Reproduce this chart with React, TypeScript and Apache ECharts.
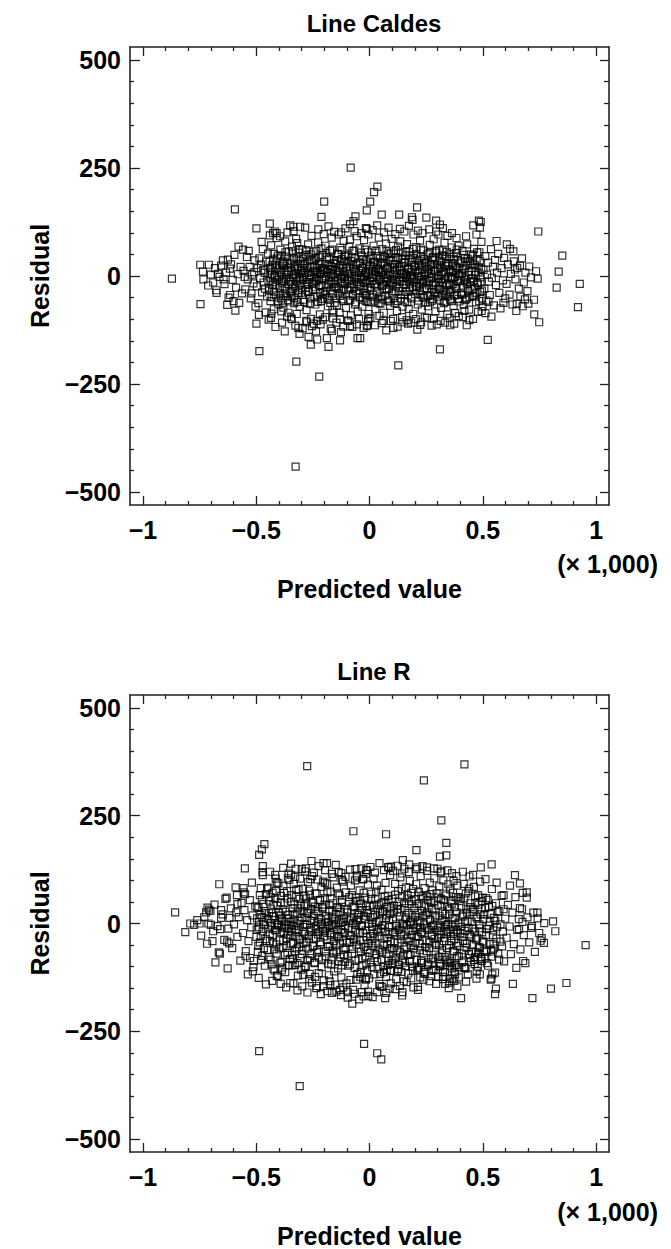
import React, { useEffect, useRef } from "react";
import * as echarts from "echarts";

// ---------- tick / text data ----------
const xMajorTicks = [-1000, -500, 0, 500, 1000];
const xMinorTicks = [-900, -800, -700, -600, -400, -300, -200, -100, 100, 200, 300, 400, 600, 700, 800, 900];
const yMajorTicks = [-500, -250, 0, 250, 500];
const yMinorTicks = [-450, -400, -350, -300, -200, -150, -100, -50, 50, 100, 150, 200, 300, 350, 400, 450];
const panelTitles = ["Line Caldes", "Line R"];
const xAxisName = "Predicted value";
const yAxisName = "Residual";
const xUnitText = "(× 1,000)";

// ---------- Line Caldes: [predicted value, residual] ----------
const caldesCore = [
  [-556,12],[-548,-31],[-541,44],[-537,-8],[-529,21],[-524,-52],[-518,3],[-512,-17],[-507,36],[-503,-71],[-551,-2],[-533,58],[-521,-40],[-509,9],
  [-497,-24],[-494,18],[-490,-63],[-486,41],[-483,-5],[-479,27],[-474,-38],[-471,62],[-467,-15],[-463,7],[-459,-84],[-456,33],[-452,-47],[-488,-90],[-476,79],[-461,-29],[-469,14],
  [-448,52],[-446,-12],[-443,-34],[-440,19],[-437,-58],[-434,71],[-431,4],[-428,-21],[-425,38],[-422,-77],[-419,-3],[-416,26],[-413,-45],[-410,88],[-407,-9],[-404,47],[-402,-66],[-445,-101],[-433,-87],[-426,99],[-415,-118],
  [-398,15],[-396,-28],[-393,61],[-391,-52],[-388,2],[-385,-11],[-383,34],[-380,-73],[-377,24],[-375,-41],[-372,80],[-369,-6],[-366,45],[-364,-94],[-361,9],[-358,-19],[-356,57],[-353,-35],[-351,-59],[-395,92],[-386,-108],[-374,-128],[-362,101],[-389,-82],
  [-349,29],[-347,-14],[-344,-47],[-342,68],[-339,3],[-337,-29],[-334,41],[-332,-63],[-329,17],[-326,-6],[-324,86],[-321,-88],[-318,22],[-316,-39],[-313,54],[-311,-2],[-308,-71],[-305,35],[-303,-20],[-346,-96],[-335,104],[-327,-115],[-319,76],[-309,-134],[-301,12],
  [-298,-44],[-296,61],[-293,-9],[-291,27],[-288,-60],[-286,7],[-283,-26],[-281,49],[-278,-79],[-276,18],[-273,-14],[-271,73],[-268,-36],[-266,2],[-263,-52],[-261,38],[-258,-99],[-256,93],[-253,-18],[-251,11],[-295,-121],[-284,112],[-269,-141],[-259,-159],[-279,-104],
  [-249,-31],[-247,55],[-244,-4],[-242,23],[-239,-66],[-237,41],[-234,-12],[-232,9],[-229,-47],[-227,78],[-224,-22],[-222,31],[-219,-89],[-217,5],[-214,-58],[-212,64],[-209,-7],[-207,18],[-204,-38],[-202,97],[-246,-110],[-236,-128],[-226,108],[-216,-112],[-206,-101],
  [-199,14],[-197,-43],[-194,70],[-192,-1],[-189,-26],[-187,44],[-184,-70],[-182,25],[-179,-10],[-177,-55],[-174,58],[-172,-33],[-169,3],[-167,89],[-164,-79],[-162,16],[-159,-18],[-157,37],[-154,-62],[-152,-4],[-196,-95],[-181,115],[-171,-122],[-161,-98],[-156,102],
  [-149,28],[-147,-25],[-144,-68],[-142,51],[-139,8],[-137,-40],[-134,19],[-132,-85],[-129,66],[-127,-3],[-124,-16],[-122,39],[-119,-54],[-117,11],[-114,81],[-112,-31],[-109,-7],[-107,47],[-104,-74],[-102,22],[-146,-108],[-136,96],[-126,-130],[-116,-117],[-106,110],
  [-99,-12],[-97,35],[-94,-57],[-92,4],[-89,68],[-87,-28],[-84,15],[-82,-91],[-79,43],[-77,-6],[-74,-46],[-72,27],[-69,-19],[-67,59],[-64,-66],[-62,9],[-59,-35],[-57,92],[-54,1],[-52,-82],[-96,-103],[-86,120],[-76,-118],[-66,104],[-56,-112],
  [-49,30],[-47,-22],[-44,64],[-42,-49],[-39,12],[-37,-3],[-34,45],[-32,-71],[-29,19],[-27,-15],[-24,83],[-22,-39],[-19,6],[-17,-58],[-14,36],[-12,-9],[-9,-27],[-7,55],[-4,-88],[-2,16],[-46,-99],[-36,99],[-26,-120],[-16,111],[-6,-105],
  [1,-34],[3,24],[6,-61],[8,47],[11,-5],[13,12],[16,-44],[18,70],[21,-18],[23,33],[26,-77],[28,2],[31,58],[33,-26],[36,-52],[38,17],[41,89],[43,-10],[46,40],[48,-64],[4,-97],[14,106],[24,-114],[34,117],[44,-92],
  [51,9],[53,-47],[56,62],[58,-20],[61,31],[63,-85],[66,-2],[68,44],[71,-33],[73,75],[76,-11],[78,19],[81,-57],[83,52],[86,-29],[88,4],[91,-69],[93,36],[96,-15],[98,86],[54,-109],[64,101],[74,-126],[84,112],[94,-104],
  [101,-40],[103,27],[106,-8],[108,57],[111,-63],[113,14],[116,-24],[118,42],[121,-81],[123,3],[126,68],[128,-35],[131,21],[133,-13],[136,80],[138,-52],[141,7],[143,39],[146,-71],[148,-4],[104,-99],[114,97],[124,-117],[134,109],[144,-95],
  [151,31],[153,-19],[156,-59],[158,48],[161,2],[163,-37],[166,74],[168,-7],[171,16],[173,-76],[176,55],[178,-27],[181,9],[183,-48],[186,33],[188,-3],[191,63],[193,-88],[196,22],[198,-14],[154,103],[164,-102],[174,116],[184,-108],[194,96],
  [201,-42],[203,11],[206,67],[208,-23],[211,38],[213,-66],[216,-1],[218,25],[221,-35],[223,82],[226,-9],[228,46],[231,-78],[233,15],[236,-17],[238,59],[241,-50],[243,4],[246,30],[248,-61],[204,-100],[214,105],[224,-113],[234,99],[244,-96],
  [251,20],[253,-29],[256,50],[258,-70],[261,6],[263,-12],[266,72],[268,-45],[271,28],[273,-3],[276,-57],[278,41],[281,-21],[283,85],[286,-38],[288,13],[291,-82],[293,54],[296,-6],[298,26],[254,-97],[264,108],[274,-115],[284,-98],[294,103],
  [301,-48],[303,17],[306,-14],[308,61],[311,-31],[313,35],[316,-74],[318,3],[321,48],[323,-22],[326,9],[328,-63],[331,77],[333,-8],[336,23],[338,-41],[341,56],[343,-89],[346,-2],[348,30],[304,96],[314,-104],[324,111],[334,-108],[344,93],
  [351,-17],[353,44],[356,-55],[358,11],[361,-33],[363,66],[366,-5],[368,24],[371,-69],[373,39],[376,-24],[378,-86],[381,7],[383,53],[386,-44],[388,18],[391,-11],[393,70],[396,-59],[398,1],[354,-97],[364,99],[374,-110],[384,88],[394,-93],
  [401,29],[404,-40],[407,6],[410,58],[413,-22],[416,-67],[419,15],[422,41],[425,-9],[428,-53],[431,73],[434,-30],[437,2],[440,-78],[443,35],[446,-14],[449,50],[412,-95],[426,92],[441,-102],
  [452,-5],[455,-46],[458,27],[461,63],[464,-26],[467,9],[470,-61],[473,38],[476,-16],[479,-83],[482,20],[485,55],[488,-37],[491,-3],[494,79],[497,-52],[457,-99],[472,96],[487,112],[499,-71],
  [503,14],[507,-29],[511,46],[515,-57],[519,3],[523,31],[527,-13],[531,-44],[536,62],[540,-4],[545,22],[549,-68],[554,37],[558,-21],[563,8],[568,51],[573,-39],[578,-75],[583,18],[589,-10],[594,42],[599,-52],[512,-86],[538,-94],[561,81],
  [605,-18],[611,27],[618,-43],[624,5],[631,-66],[637,34],[644,-8],[652,19],[659,-29],[666,-48],[673,41],[681,-15],[688,8],[697,-35],[705,22],[713,-3],[620,63],[648,-81],[676,-70],
  [-700,3],[-690,-15],[-682,18],[-676,-33],[-662,-2],[-655,24],[-640,-19],[-633,8],[-622,-50],[-611,27],[-604,-9],[-596,49],[-589,-27],[-581,4],[-575,-62],[-569,21],[-563,-40],[-592,-80],[-578,68]
];
const caldesDense = [
  [-447,8],[-444,-27],[-441,33],[-438,-4],[-435,15],[-432,-49],[-429,26],[-426,-14],[-423,51],[-420,-36],[-417,0],[-414,19],[-411,-22],[-408,41],[-405,-58],
  [-399,-3],[-397,22],[-394,-40],[-392,9],[-389,47],[-387,-17],[-384,-62],[-382,28],[-379,-8],[-376,13],[-373,-29],[-371,55],[-368,-47],[-365,3],[-362,31],[-359,-56],[-357,19],[-354,-10],
  [-348,-38],[-345,12],[-343,36],[-340,-19],[-338,57],[-335,-3],[-333,-51],[-330,24],[-328,-26],[-325,5],[-322,43],[-320,-12],[-317,-60],[-314,17],[-312,-33],[-310,62],[-307,-7],[-304,28],
  [-299,6],[-297,-32],[-294,40],[-292,-55],[-289,18],[-287,-3],[-284,29],[-282,-44],[-279,60],[-277,-18],[-274,8],[-272,-37],[-269,45],[-267,-8],[-264,21],[-262,-64],[-259,2],[-257,50],
  [-248,-15],[-245,36],[-243,-48],[-240,11],[-238,-26],[-235,58],[-233,-2],[-230,19],[-228,-60],[-225,44],[-223,-9],[-220,27],[-218,-39],[-215,6],[-213,-21],[-210,49],[-208,-53],[-205,14],
  [-198,-6],[-196,28],[-193,-35],[-191,53],[-188,9],[-186,-50],[-183,16],[-181,-20],[-178,39],[-176,-3],[-173,-62],[-171,23],[-168,-14],[-166,61],[-163,-41],[-161,5],[-158,30],[-155,-27],
  [-148,-52],[-145,14],[-143,36],[-140,-11],[-138,50],[-135,-29],[-133,3],[-130,-46],[-128,25],[-125,-7],[-123,60],[-120,-34],[-118,18],[-115,-58],[-113,-1],[-110,33],[-108,-19],[-105,45],
  [-98,11],[-95,-33],[-93,48],[-90,-9],[-88,22],[-85,-55],[-83,35],[-80,-18],[-78,4],[-75,58],[-73,-42],[-70,16],[-68,-26],[-65,41],[-63,-4],[-60,-61],[-58,26],[-55,-14],
  [-48,-40],[-45,7],[-43,33],[-40,-24],[-38,54],[-35,-8],[-33,18],[-30,-51],[-28,39],[-25,-2],[-23,-30],[-20,61],[-18,-16],[-15,10],[-13,-45],[-10,27],[-8,-60],[-5,3],
  [2,-12],[5,40],[7,-26],[10,59],[12,-48],[15,21],[17,-3],[20,33],[22,-57],[25,9],[27,-19],[30,46],[32,-38],[35,1],[37,27],[40,-63],[42,14],[45,-8],
  [52,30],[55,-23],[57,-54],[60,11],[62,47],[65,-13],[67,24],[70,-45],[72,3],[75,57],[77,-31],[80,16],[82,-6],[85,38],[87,-59],[90,8],[92,-20],[95,52],
  [102,-17],[105,36],[107,-51],[110,4],[112,27],[115,-36],[117,60],[120,-9],[122,17],[125,-58],[127,42],[130,-3],[132,-27],[135,12],[137,54],[140,-44],[142,23],[145,-12],
  [152,6],[155,-42],[157,31],[160,-20],[162,56],[165,-2],[167,-61],[170,19],[172,38],[175,-13],[177,-34],[180,48],[182,1],[185,-52],[187,14],[190,-25],[192,42],[195,-6],
  [202,22],[205,-33],[207,50],[210,-10],[212,7],[215,-57],[217,35],[220,-22],[222,13],[225,-43],[227,61],[230,-1],[232,29],[235,-49],[237,-14],[240,39],[242,-28],[245,9],
  [252,-8],[255,33],[257,-46],[260,16],[262,-22],[265,53],[267,-61],[270,5],[272,25],[275,-31],[277,-4],[280,44],[282,-53],[285,12],[287,-17],[290,36],[292,-40],[295,58],
  [302,1],[305,-29],[307,41],[310,-55],[312,20],[315,-8],[317,31],[320,-43],[322,59],[325,-16],[327,11],[330,-35],[332,46],[335,-60],[337,4],[340,26],[342,-21],[345,-47],
  [352,16],[355,-37],[357,52],[360,-5],[362,-58],[365,30],[367,-19],[370,9],[372,45],[375,-45],[377,-2],[380,22],[382,-30],[385,61],[387,-12],[390,36],[392,-53],[395,6],
  [403,-11],[406,34],[409,-43],[411,17],[414,-28],[417,49],[420,-3],[423,-56],[427,24],[430,-17],[433,40],[436,-35],[439,10],[442,-49],[445,29],[448,-7],
  [451,19],[454,-30],[457,47],[460,-12],[463,-48],[466,26],[469,2],[472,-39],[475,55],[478,-20],[481,8],[484,-58],[487,35],[490,-14],[493,16],[496,-34]
];
const caldesOutliers = [
  [-872,-6],[-746,-65],[-747,26],[-709,26],[-735,10],[-733,-8],[-712,-22],[-675,-39],[-669,5],[-644,-8],[-647,36],[-625,38],[-616,17],[-615,-44],[-628,-67],[-600,-58],[-594,154],[-558,61],
  [-499,110],[-499,-110],[-486,-174],[-440,121],[-440,94],[-435,-97],[-418,103],[-410,99],[-350,117],[-336,114],[-306,114],[-358,-85],[-343,-100],[-314,-120],[-277,-107],[-254,-116],[-232,-104],
  [-231,-147],[-188,-144],[-181,-164],[-130,-149],[-53,-144],[-212,137],[-200,172],[-83,251],[-71,127],[-62,138],[-12,152],[3,172],[20,194],[35,207],[-125,101],[-86,84],[-12,109],[-5,96],
  [-159,-85],[-130,-100],[-93,-104],[-86,-116],[-5,-100],[-9,-114],[-166,-127],[54,142],[131,142],[210,159],[187,136],[190,130],[251,135],[294,128],[311,119],[483,128],[491,125],[458,117],
  [745,103],[851,47],[835,10],[826,-27],[928,-18],[920,-72],[735,11],[742,-6],[727,-89],[749,-107],[726,-55],[701,-64],[686,-54],[650,-64],[606,73],[635,57],[664,24],[642,15],
  [522,-148],[311,-170],[429,-114],[356,-114],[297,-112],[228,-107],[211,-124],[170,-110],[145,-107],[105,-120],[61,-104],[-12,-116],[-41,-144],[419,-81],[495,-81],[591,-62],[525,-60],
  [127,-207],[-323,-198],[-222,-233],[-326,-441]
];

// ---------- Line R: [predicted value, residual] ----------
const rCore = [
  [-558,-22],[-552,31],[-546,-64],[-540,8],[-534,-41],[-528,54],[-522,-9],[-516,19],[-510,-87],[-504,40],[-555,72],[-537,-118],[-519,95],
  [-498,-14],[-495,37],[-491,-52],[-487,4],[-484,66],[-480,-29],[-476,15],[-473,-75],[-469,45],[-465,-3],[-462,-98],[-458,24],[-455,-40],[-452,81],[-489,-126],[-471,112],[-457,-141],
  [-449,-61],[-446,10],[-443,53],[-440,-24],[-437,-84],[-434,33],[-431,-5],[-428,71],[-425,-46],[-422,17],[-419,-109],[-416,58],[-413,-16],[-410,-70],[-407,41],[-404,-2],[-402,93],[-439,120],[-429,-133],[-414,104],[-405,-121],
  [-399,26],[-396,-39],[-394,-91],[-391,64],[-388,-8],[-386,12],[-383,-56],[-380,87],[-378,-21],[-375,47],[-372,-113],[-370,3],[-367,-34],[-364,75],[-362,-68],[-359,20],[-356,-12],[-354,101],[-351,-82],[-392,-140],[-381,129],[-368,-148],[-357,116],[-385,-102],
  [-349,-27],[-347,51],[-344,-4],[-342,-73],[-339,35],[-337,-45],[-334,92],[-332,9],[-329,-96],[-327,-15],[-324,62],[-321,-58],[-319,23],[-316,-121],[-313,78],[-311,-35],[-308,6],[-305,-80],[-303,44],[-346,113],[-336,-139],[-326,127],[-318,-155],[-306,104],[-301,-107],
  [-299,14],[-296,-63],[-294,81],[-291,-19],[-288,40],[-286,-101],[-283,-2],[-281,58],[-278,-44],[-276,25],[-273,-85],[-271,96],[-268,-28],[-266,-129],[-263,67],[-261,-10],[-258,33],[-256,-71],[-253,110],[-251,-53],[-297,-146],[-285,121],[-274,-160],[-264,-117],[-254,-137],
  [-249,48],[-247,-36],[-244,6],[-242,-92],[-239,70],[-237,-13],[-234,29],[-232,-67],[-229,102],[-227,-25],[-224,-115],[-222,12],[-219,55],[-217,-49],[-214,-1],[-212,85],[-209,-83],[-207,38],[-204,-18],[-202,-132],[-245,118],[-235,-150],[-225,133],[-215,-164],[-205,97],
  [-199,-30],[-197,59],[-194,-76],[-192,17],[-189,-9],[-187,91],[-184,-54],[-182,4],[-179,-120],[-177,43],[-174,-22],[-172,74],[-169,-95],[-167,-3],[-164,28],[-162,-63],[-159,107],[-157,-41],[-154,10],[-152,-142],[-196,124],[-186,-157],[-176,-134],[-166,115],[-156,-111],
  [-149,21],[-147,-51],[-144,83],[-142,-14],[-139,-104],[-137,36],[-134,-32],[-132,65],[-129,-78],[-127,2],[-124,-125],[-122,49],[-119,-20],[-117,97],[-114,-60],[-112,13],[-109,-89],[-107,-6],[-104,72],[-102,-139],[-146,-158],[-136,119],[-126,-166],[-116,-148],[-106,108],
  [-99,-45],[-97,32],[-94,-98],[-92,7],[-89,61],[-87,-27],[-84,-131],[-82,88],[-79,-11],[-77,-70],[-74,40],[-72,-154],[-69,15],[-67,-37],[-64,100],[-62,-86],[-59,-4],[-57,52],[-54,-117],[-52,24],[-96,-172],[-86,125],[-76,-186],[-66,-163],[-56,111],
  [-49,9],[-47,-58],[-44,77],[-42,-21],[-39,-112],[-37,46],[-34,-7],[-32,-80],[-29,103],[-27,-39],[-24,18],[-22,-143],[-19,60],[-17,-16],[-14,-95],[-12,31],[-9,-61],[-7,90],[-4,-1],[-2,-127],[-46,-176],[-36,128],[-26,-169],[-16,115],[-6,-158],
  [1,39],[3,-29],[6,-90],[8,69],[11,-8],[13,-52],[16,14],[18,104],[21,-118],[23,-33],[26,56],[28,-71],[31,3],[33,88],[36,-105],[38,-19],[41,44],[43,-140],[46,25],[48,-62],[4,131],[14,-171],[24,118],[34,-159],[44,140],
  [51,-12],[53,78],[56,-66],[58,27],[61,-99],[63,50],[66,-35],[68,-4],[71,94],[73,-124],[76,19],[78,-48],[81,64],[83,-87],[86,8],[88,-25],[91,112],[93,-110],[96,35],[98,-57],[54,-147],[64,124],[74,-161],[84,131],[94,-139],
  [101,57],[103,-20],[106,-83],[108,30],[111,-44],[113,92],[116,-6],[118,-129],[121,41],[123,-63],[126,75],[128,-15],[131,-96],[133,18],[136,107],[138,-37],[141,-112],[143,62],[146,-1],[148,-74],[104,122],[114,-152],[124,134],[134,-145],[144,116],
  [151,-28],[153,47],[156,-91],[158,11],[161,84],[163,-54],[166,-3],[168,66],[171,-116],[173,24],[176,-41],[178,99],[181,-73],[183,5],[186,52],[188,-100],[191,-17],[193,80],[196,-58],[198,36],[154,127],[164,-136],[174,119],[184,-127],[194,-148],
  [201,15],[203,-68],[206,91],[208,-30],[211,45],[213,-108],[216,2],[218,73],[221,-47],[223,-9],[226,110],[228,-86],[231,29],[233,-21],[236,60],[238,-130],[241,-2],[243,82],[246,-55],[248,20],[204,126],[214,-147],[224,-125],[234,133],[244,-117],
  [251,-39],[253,63],[256,-11],[258,-95],[261,37],[263,-57],[266,95],[268,8],[271,-122],[273,48],[276,-26],[278,77],[281,-80],[283,-4],[286,105],[288,-46],[291,19],[293,-108],[296,70],[298,-16],[254,122],[264,-134],[274,-110],[284,128],[294,-140],
  [301,42],[303,-33],[306,-77],[308,86],[311,-5],[313,-99],[316,57],[318,-18],[321,-62],[323,28],[326,100],[328,-41],[331,4],[333,-113],[336,69],[338,-24],[341,-84],[343,39],[346,-1],[348,91],[304,-123],[314,118],[324,-129],[334,-140],[344,123],
  [351,-50],[353,21],[356,79],[358,-29],[361,-92],[363,46],[366,-8],[368,-64],[371,99],[373,-37],[376,13],[378,-118],[381,61],[383,-15],[386,-76],[388,88],[391,-45],[393,2],[396,-101],[398,52],[354,-128],[364,117],[374,-133],[384,110],[394,-125],
  [401,-22],[404,58],[407,-70],[410,16],[413,-41],[416,92],[419,-103],[422,3],[425,70],[428,-56],[431,25],[434,-118],[437,-10],[440,81],[443,-80],[446,38],[449,-31],[412,120],[426,-135],[441,109],
  [452,-65],[455,27],[458,-12],[461,85],[464,-94],[467,48],[470,-37],[473,-110],[476,11],[479,66],[482,-54],[485,-2],[488,97],[491,-82],[494,33],[497,-20],[457,113],[472,-128],[487,-118],[499,60],
  [503,-44],[507,21],[511,-79],[515,59],[519,-13],[523,-98],[527,38],[531,4],[536,-61],[540,80],[545,-27],[549,13],[554,-114],[558,47],[563,-8],[568,-70],[573,29],[578,-42],[583,64],[589,-19],[594,-88],[599,11],[512,103],[538,-128],[561,95],
  [605,-33],[611,43],[618,-7],[624,-71],[631,25],[637,-48],[644,61],[652,-15],[659,10],[666,-60],[673,33],[681,-27],[688,-92],[697,14],[705,-44],[713,-10],[620,88],[648,-103],[676,71],[730,-66],[742,12],[755,-40],
  [-760,8],[-743,-28],[-729,15],[-717,-47],[-702,29],[-690,-18],[-684,44],[-671,-6],[-660,-70],[-648,21],[-641,-38],[-630,60],[-623,-12],[-612,35],[-606,-57],[-598,-2],[-591,84],[-583,-31],[-577,15],[-570,-86],[-565,48],[-680,-90],[-626,-104]
];
const rDense = [
  [-499,-31],[-496,12],[-493,-66],[-490,38],[-487,-9],[-484,-44],[-481,20],[-478,-85],[-475,55],[-472,-18],[-469,3],[-466,-57],[-463,29],[-460,-36],[-457,68],
  [-448,-12],[-445,-78],[-443,24],[-440,-41],[-437,61],[-435,1],[-432,-95],[-429,17],[-427,-27],[-424,43],[-421,-60],[-419,8],[-416,-15],[-413,75],[-411,-49],[-408,-3],
  [-398,-58],[-396,19],[-393,-20],[-391,49],[-388,-89],[-386,6],[-383,33],[-381,-40],[-378,71],[-376,-11],[-373,-73],[-371,27],[-368,-2],[-366,-52],[-363,58],[-361,-26],[-358,12],[-355,-97],
  [-348,4],[-346,-47],[-343,66],[-341,-19],[-338,-83],[-336,21],[-333,-6],[-331,44],[-328,-64],[-326,-30],[-323,79],[-321,0],[-318,-92],[-316,35],[-313,-14],[-311,-55],[-308,57],[-306,-37],
  [-298,-71],[-296,28],[-293,-8],[-291,-45],[-288,64],[-286,-24],[-283,13],[-281,-99],[-278,45],[-276,-3],[-273,-58],[-271,24],[-268,-35],[-266,76],[-263,-80],[-261,6],[-258,-16],[-256,50],
  [-248,-52],[-246,18],[-243,-90],[-241,39],[-238,-6],[-236,-33],[-233,69],[-231,-61],[-228,3],[-226,28],[-223,-79],[-221,-20],[-218,54],[-216,-43],[-213,9],[-211,-101],[-208,35],[-206,-12],
  [-198,44],[-196,-18],[-193,-64],[-191,11],[-188,-38],[-186,72],[-183,-93],[-181,-5],[-178,30],[-176,-52],[-173,58],[-171,-27],[-168,-84],[-166,16],[-163,-9],[-161,47],[-158,-70],[-156,-31],
  [-148,-2],[-146,-66],[-143,38],[-141,-29],[-138,70],[-136,-88],[-133,8],[-131,-46],[-128,27],[-126,-14],[-123,-97],[-121,55],[-118,-40],[-116,4],[-113,-73],[-111,33],[-108,-22],[-106,-56],
  [-98,26],[-96,-75],[-93,-10],[-91,51],[-88,-44],[-86,-95],[-83,12],[-81,-28],[-78,66],[-76,-59],[-73,1],[-71,-37],[-68,38],[-66,-103],[-63,-16],[-61,60],[-58,-49],[-56,7],
  [-48,-83],[-46,20],[-43,-39],[-41,53],[-38,-66],[-36,-4],[-33,31],[-31,-98],[-28,-22],[-26,71],[-23,-54],[-21,10],[-18,-76],[-16,41],[-13,-31],[-11,-108],[-8,24],[-6,-47],
  [2,-68],[4,15],[7,57],[9,-40],[12,-101],[14,2],[17,-23],[19,43],[22,-80],[24,20],[27,-46],[29,74],[32,-14],[34,-89],[37,33],[39,-58],[42,6],[44,-30],
  [52,47],[54,-85],[57,-5],[59,29],[62,-51],[64,-113],[67,63],[69,-19],[72,13],[74,-70],[77,39],[79,-33],[82,-96],[84,54],[87,-8],[89,-60],[92,22],[94,-41],
  [102,-92],[104,10],[107,41],[109,-57],[112,-21],[114,67],[117,-79],[119,-2],[122,26],[124,-45],[127,-106],[129,50],[132,-11],[134,-67],[137,32],[139,-25],[142,80],[144,-86],
  [152,-7],[154,-60],[157,36],[159,-99],[162,14],[164,-35],[167,58],[169,-72],[172,-16],[174,45],[177,-88],[179,3],[182,-50],[184,71],[187,-27],[189,19],[192,-110],[194,-4],
  [202,-45],[204,56],[207,-9],[209,-84],[212,24],[214,-31],[217,-103],[219,47],[222,-62],[224,5],[227,-20],[229,64],[232,-91],[234,-40],[237,17],[239,-69],[242,40],[244,-11],
  [252,-64],[254,26],[257,-97],[259,55],[262,-15],[264,-44],[267,9],[269,68],[272,-83],[274,-28],[277,34],[279,-6],[282,-107],[284,52],[287,-36],[289,14],[292,-72],[294,-50],
  [302,-10],[304,60],[307,-49],[309,18],[312,-94],[314,-26],[317,40],[319,-69],[322,8],[324,-112],[327,54],[329,-33],[332,-78],[334,22],[337,-4],[339,65],[342,-57],[344,-20],
  [352,33],[354,-86],[357,-14],[359,52],[362,-41],[364,-104],[367,12],[369,71],[372,-24],[374,-65],[377,38],[379,-2],[382,-96],[384,26],[387,-52],[389,-19],[392,61],[394,-76],
  [402,-8],[405,40],[408,-90],[410,-31],[413,21],[416,-62],[418,58],[421,-17],[424,-105],[427,33],[430,-46],[433,6],[436,75],[439,-71],[442,-25],[445,47],[448,-89],
  [451,4],[454,-50],[457,34],[460,-85],[463,-19],[466,63],[469,-66],[472,15],[475,-33],[478,-100],[481,44],[484,-11],[487,-57],[490,21],[493,-78],[496,52],[499,-40],
  [502,10],[506,-63],[510,36],[514,-27],[518,-92],[522,55],[526,-5],[530,-48],[534,23],[538,-77],[542,41],[546,-16],[550,-58],[555,6],[560,-35],[566,27],[572,-84],[578,-2],[585,-53],[592,33]
];
const rOutliers = [
  [-858,26],[-813,-20],[-791,0],[-774,-3],[-750,0],[-711,0],[-700,-3],[-715,37],[-708,32],[-721,26],[-693,-41],[-665,-67],[-663,91],[-636,57],[-655,31],[-655,13],[-659,-13],[-618,13],[-628,-42],[-619,-46],
  [-585,66],[-583,45],[-588,26],[-550,128],[-549,68],[-556,82],[-547,-76],[-527,-80],[-512,-101],[-515,-111],[-487,159],[-475,172],[-464,184],[-471,133],[-472,119],[-416,113],[-409,95],[-446,83],[-480,82],
  [-346,139],[-299,126],[-281,128],[-256,145],[-203,140],[-188,140],[-149,136],[-261,103],[-360,105],[-328,108],[-196,94],[-124,117],[-122,101],[-62,126],[-12,124],[-55,107],[-27,103],[-71,214],
  [-424,-105],[-409,-122],[-350,-138],[-387,-109],[-340,-97],[-292,-119],[-240,-124],[-233,-145],[-203,-145],[-166,-161],[-130,-154],[-96,-159],[-34,-159],[-5,-168],[-173,-143],[-59,-130],[-41,-124],[-16,-130],
  [-275,365],[419,369],[240,332],[317,239],[73,207],[207,170],[339,187],[311,155],[339,158],[147,147],[175,137],[210,130],[254,130],[300,127],[317,121],[95,132],[83,130],[-14,124],[491,130],[539,137],
  [642,112],[664,93],[694,72],[694,60],[592,66],[664,36],[723,25],[741,25],[771,1],[810,5],[820,-18],[749,-22],[760,-34],[770,-45],[954,-50],[717,-6],[675,4],[660,-13],[678,-87],[633,-140],[801,-151],[869,-138],
  [558,-151],[554,-164],[542,-118],[535,-130],[719,-173],[404,-173],[326,-124],[352,-137],[375,-113],[367,-128],[388,-146],[350,-150],[310,-99],[419,-101],[240,-113],[214,-154],[151,-134],[145,-159],[89,-151],[47,-145],
  [-18,-128],[125,-110],[91,-110],[76,-107],[69,-173],[144,-167],[308,-91],[348,-90],[355,-99],[375,-97],[466,-78],[495,-87],[480,-69],[517,-66],[544,-65],[547,-47],[179,-87],[211,-105],[260,-90],[228,-91],[98,-86],[47,-117],
  [-487,-296],[-24,-279],[34,-301],[52,-315],[-308,-377]
];

const panelData = [
  [...caldesCore, ...caldesDense, ...caldesOutliers],
  [...rCore, ...rDense, ...rOutliers],
];

const FONT = "'Liberation Sans', Arial, Helvetica, sans-serif";
const X_MIN = -1057, X_MAX = 1057;
const Y_MIN = -530, Y_MAX = 530;
const GRID_LEFT = 130, GRID_W = 479, GRID_H = 458;
const GRID_TOPS = [47, 695];
const AXIS_COLOR = "#222";
const LABEL_SIZE = 25;

const minus = (s: string) => s.replace("-", "\u2212");

function buildOption() {
  const grid: any[] = [];
  const xAxis: any[] = [];
  const yAxis: any[] = [];
  const series: any[] = [];
  const title: any[] = [];
  const graphic: any[] = [];

  GRID_TOPS.forEach((top, g) => {
    grid.push({ left: GRID_LEFT, top, width: GRID_W, height: GRID_H, containLabel: false });
    const baseX = { gridIndex: g, type: "value", min: X_MIN, max: X_MAX, splitLine: { show: false } };
    const baseY = { gridIndex: g, type: "value", min: Y_MIN, max: Y_MAX, splitLine: { show: false } };
    const line = { show: true, onZero: false, lineStyle: { color: AXIS_COLOR, width: 1.6 } };
    const noLine = { show: false, onZero: false };
    const tickStyle = { color: AXIS_COLOR, width: 1.3 };
    const textBase = { color: "#000", fontSize: LABEL_SIZE, fontWeight: "bold", fontFamily: FONT };
    // x bottom major (labels + name)
    xAxis.push({
      ...baseX, position: "bottom", axisLine: line,
      axisTick: { show: true, inside: true, length: 9, customValues: xMajorTicks, lineStyle: tickStyle },
      axisLabel: {
        show: true, customValues: xMajorTicks, margin: 12, ...textBase,
        formatter: (v: number) => (v === 0 ? "0" : minus(String(v / 1000))),
      },
      name: xAxisName, nameLocation: "middle", nameGap: 71,
      nameTextStyle: { ...textBase },
    });
    // x bottom minor
    xAxis.push({
      ...baseX, position: "bottom", axisLine: noLine,
      axisTick: { show: true, inside: true, length: 4, customValues: xMinorTicks, lineStyle: tickStyle },
      axisLabel: { show: false },
    });
    // x top major
    xAxis.push({
      ...baseX, position: "top", axisLine: line,
      axisTick: { show: true, inside: true, length: 9, customValues: xMajorTicks, lineStyle: tickStyle },
      axisLabel: { show: false },
    });
    // x top minor
    xAxis.push({
      ...baseX, position: "top", axisLine: noLine,
      axisTick: { show: true, inside: true, length: 4, customValues: xMinorTicks, lineStyle: tickStyle },
      axisLabel: { show: false },
    });
    // y left major (labels + name)
    yAxis.push({
      ...baseY, position: "left", axisLine: line,
      axisTick: { show: true, inside: true, length: 10, customValues: yMajorTicks, lineStyle: tickStyle },
      axisLabel: {
        show: true, customValues: yMajorTicks, margin: 9, ...textBase,
        formatter: (v: number) => minus(String(v)),
      },
      name: yAxisName, nameLocation: "middle", nameGap: 78, nameRotate: 90,
      nameTextStyle: { ...textBase },
    });
    // y left minor
    yAxis.push({
      ...baseY, position: "left", axisLine: noLine,
      axisTick: { show: true, inside: true, length: 4, customValues: yMinorTicks, lineStyle: tickStyle },
      axisLabel: { show: false },
    });
    // y right major
    yAxis.push({
      ...baseY, position: "right", axisLine: line,
      axisTick: { show: true, inside: true, length: 9, customValues: yMajorTicks, lineStyle: tickStyle },
      axisLabel: { show: false },
    });
    // y right minor
    yAxis.push({
      ...baseY, position: "right", axisLine: noLine,
      axisTick: { show: true, inside: true, length: 5, customValues: yMinorTicks, lineStyle: tickStyle },
      axisLabel: { show: false },
    });

    series.push({
      type: "scatter",
      name: panelTitles[g],
      xAxisIndex: g * 4,
      yAxisIndex: g * 4,
      data: panelData[g],
      symbol: "rect",
      symbolSize: 7,
      silent: true,
      itemStyle: { color: "rgba(0,0,0,0)", borderColor: "#000", borderWidth: 1.2 },
    });

    title.push({
      text: panelTitles[g],
      left: GRID_LEFT + GRID_W / 2 - 0.5,
      top: top - 41,
      textAlign: "center",
      textStyle: { color: "#000", fontSize: 24, fontWeight: "bold", fontFamily: FONT },
    });

    graphic.push({
      type: "text",
      x: 658,
      y: top + GRID_H + 59,
      silent: true,
      style: {
        text: xUnitText, align: "right", verticalAlign: "middle",
        fill: "#000", fontSize: LABEL_SIZE, fontWeight: "bold", fontFamily: FONT,
      },
    });
  });

  return { animation: false, backgroundColor: "#fff", grid, xAxis, yAxis, series, title, graphic };
}

export default function App() {
  const ref = useRef<HTMLDivElement>(null);
  useEffect(() => {
    if (!ref.current) return;
    const chart = echarts.init(ref.current, null, { renderer: "svg" });
    chart.setOption(buildOption());
    return () => chart.dispose();
  }, []);
  return (
    <div
      ref={ref}
      style={{ position: "absolute", left: 0, top: 0, width: 671, height: 1249, background: "#fff" }}
    />
  );
}
